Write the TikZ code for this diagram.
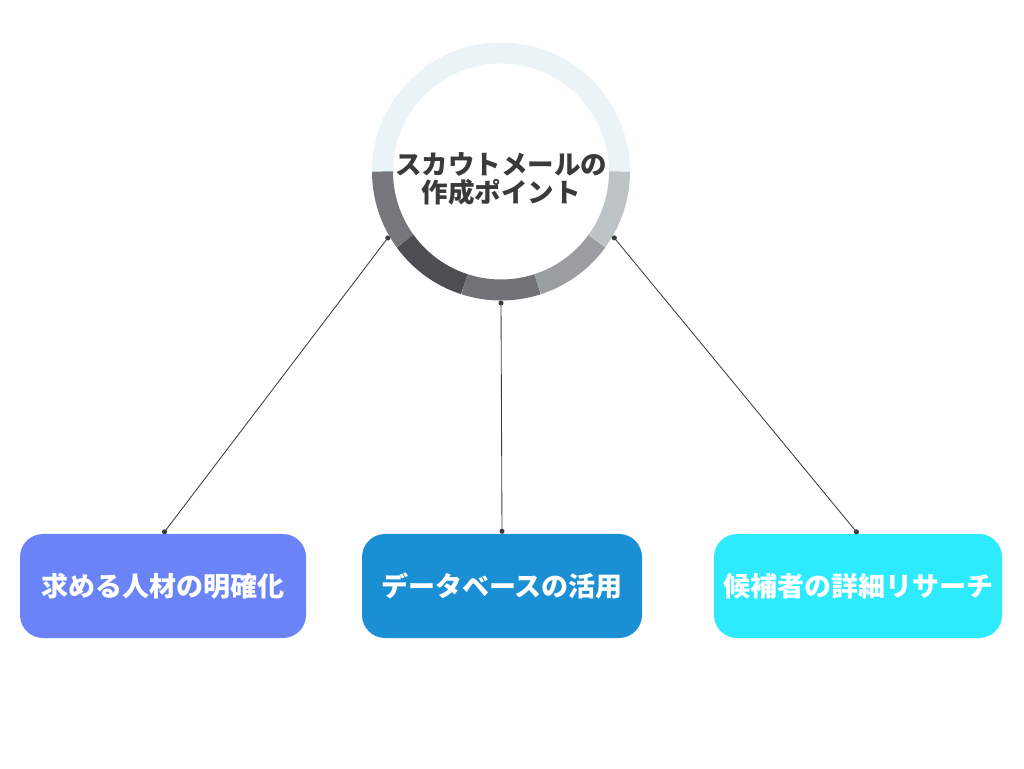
\documentclass[tikz,border=0pt]{standalone}
\usepackage{fontspec}
\usetikzlibrary{arrows.meta}
\newfontfamily\jpfont{Noto Sans CJK JP}
\definecolor{ringtop}{HTML}{EAF3F5}
\definecolor{ringa}{HTML}{77777B}
\definecolor{ringb}{HTML}{4E4E52}
\definecolor{ringc}{HTML}{727276}
\definecolor{ringd}{HTML}{9B9EA1}
\definecolor{ringe}{HTML}{BEC3C5}
\definecolor{titlegray}{HTML}{3A3A3A}
\definecolor{linegray}{HTML}{3C3C3C}
\definecolor{boxviolet}{HTML}{6A84F7}
\definecolor{boxblue}{HTML}{1A8FD3}
\definecolor{boxcyan}{HTML}{2DEBFD}
\newcommand{\ringr}{118.5pt}
\newcommand{\ringw}{21pt}
\newcommand{\boxh}{104pt}
\newcommand{\boxy}{182}
\newcommand{\jpsize}{\fontsize{26.5}{28}\selectfont}
\newcommand{\boxsize}{\fontsize{27}{28}\selectfont}

\begin{document}
\begin{tikzpicture}[x=1pt, y=1pt,
    pointbox/.style={rectangle, rounded corners=23pt, minimum height=\boxh, text=white, font=\jpfont\bfseries\boxsize},
    link/.style={draw=linegray, line width=0.85pt, {Circle[length=5pt]}-{Circle[length=5pt]}}]
    \useasboundingbox (0,0) rectangle (1024,768);
    \node[circle, minimum size=258pt, inner sep=0pt, outer sep=0pt] (hub) at (501,596.5) {};
    \draw[line width=\ringw, ringtop] ([shift={(0:\ringr)}]hub.center) arc[start angle=0, end angle=180, radius=\ringr];
    \foreach \a/\c in {180/ringa, 216/ringb, 252/ringc, 288/ringd, 324/ringe} {
        \draw[line width=\ringw, \c] ([shift={(\a:\ringr)}]hub.center) arc[start angle=\a, delta angle=36, radius=\ringr];
    }
    \node[font=\jpfont\bfseries\jpsize, text=titlegray, align=center] (title) at ([yshift=-7.5pt]hub.center) {スカウトメールの\\作成ポイント};
    \node[pointbox, fill=boxviolet, minimum width=286pt] (talent) at (163,\boxy) {求める人材の明確化};
    \node[pointbox, fill=boxblue, minimum width=280pt] (database) at (502,\boxy) {データベースの活用};
    \node[pointbox, fill=boxcyan, minimum width=288pt] (research) at (858,\boxy) {候補者の詳細リサーチ};
    \draw[link] (hub.210) -- (talent.north);
    \draw[link] (hub.270) -- (database.north);
    \draw[link] (hub.330) -- (research.north);
\end{tikzpicture}
\end{document}
